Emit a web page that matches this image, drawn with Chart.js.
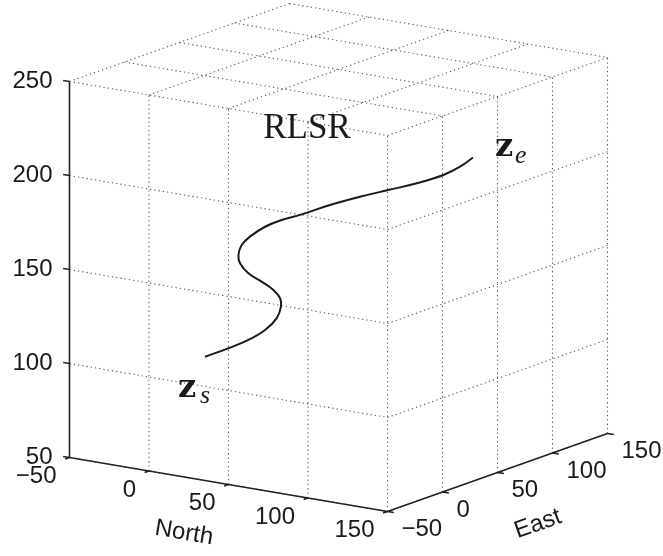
<!DOCTYPE html>
<html>
<head>
<meta charset="utf-8">
<script src="https://cdn.jsdelivr.net/npm/chart.js@4.4.1/dist/chart.umd.min.js"></script>
<style>
  html, body { margin: 0; padding: 0; background: #fff; }
  #wrap { width: 663px; height: 556px; }
</style>
</head>
<body>
<div id="wrap"><canvas id="chart" width="663" height="556"></canvas></div>
<script>
// axis ticks
const northTicks = [-50, 0, 50, 100, 150];
const eastTicks = [-50, 0, 50, 100, 150];
const altTicks = [50, 100, 150, 200, 250];

// RLSR path, from z_s to z_e
const pathNorth = [0.4, 9, 16.5, 22.7, 27, 28.6, 28.3, 25.8, 21.4, 16.5, 13.4, 12.8, 14, 17.1, 22.7, 28.9, 36.3, 46.8, 58, 68.5, 79.1, 89, 95.2, 100];
const pathEast = [0.4, 9, 16.5, 22.7, 27, 28.6, 28.3, 25.8, 21.4, 16.5, 13.4, 12.8, 14, 17.1, 22.7, 28.9, 36.3, 46.8, 58, 68.5, 79.1, 89, 95.2, 100];
const pathAlt = [100.4, 104.3, 108.3, 113.2, 119.1, 125.2, 129.7, 134.3, 139, 143.7, 149.3, 153.7, 158.9, 163.2, 168.1, 171.3, 173.8, 178.1, 181.8, 184.7, 187.6, 191.4, 195.4, 200];

const titleText = "RLSR";
const northLabel = "North";
const eastLabel = "East";

// view: orthographic projection of the 3-D box onto the page
const ORIGIN = { x: 69.5, y: 457.5 }; // (north -50, east -50, alt 50)
const N_DIR = { x: 1.59, y: 0.27 };
const E_DIR = { x: 1.1, y: -0.39 };
const Z_DIR = { x: 0, y: -1.88 };

const nMin = northTicks[0], nMax = northTicks[northTicks.length - 1];
const eMin = eastTicks[0], eMax = eastTicks[eastTicks.length - 1];
const zMin = altTicks[0], zMax = altTicks[altTicks.length - 1];

function project(n, e, z) {
  return {
    x: ORIGIN.x + (n - nMin) * N_DIR.x + (e - eMin) * E_DIR.x + (z - zMin) * Z_DIR.x,
    y: ORIGIN.y + (n - nMin) * N_DIR.y + (e - eMin) * E_DIR.y + (z - zMin) * Z_DIR.y
  };
}

const GAP = { x: NaN, y: NaN };

function segments(list) {
  const out = [];
  list.forEach(([a, b]) => {
    out.push(project(...a), project(...b), GAP);
  });
  return out;
}

// grid on planes east = eMin, north = nMax and alt = zMax
const gridSegs = [];
northTicks.forEach((n) => {
  gridSegs.push([[n, eMin, zMin], [n, eMin, zMax]]);
  gridSegs.push([[n, eMin, zMax], [n, eMax, zMax]]);
});
eastTicks.forEach((e) => {
  gridSegs.push([[nMax, e, zMin], [nMax, e, zMax]]);
  gridSegs.push([[nMin, e, zMax], [nMax, e, zMax]]);
});
altTicks.forEach((z) => {
  gridSegs.push([[nMin, eMin, z], [nMax, eMin, z]]);
  gridSegs.push([[nMax, eMin, z], [nMax, eMax, z]]);
});

const axisSegs = [
  [[nMin, eMin, zMin], [nMin, eMin, zMax]],
  [[nMin, eMin, zMin], [nMax, eMin, zMin]],
  [[nMax, eMin, zMin], [nMax, eMax, zMin]]
];
altTicks.forEach((z) => axisSegs.push([[nMin, eMin, z], [nMin - 4, eMin, z]]));
northTicks.forEach((n) => axisSegs.push([[n, eMin, zMin], [n, eMin - 4, zMin]]));
eastTicks.forEach((e) => axisSegs.push([[nMax, e, zMin], [nMax + 4, e, zMin]]));

const pathPoints = pathNorth.map((n, i) => project(n, pathEast[i], pathAlt[i]));

const labelPlugin = {
  id: "labels3d",
  afterDraw(chart) {
    const ctx = chart.ctx;
    ctx.save();
    ctx.fillStyle = "#1a1a1a";
    ctx.font = "24px 'Liberation Sans', Arial, sans-serif";
    ctx.textBaseline = "middle";

    ctx.textAlign = "right";
    altTicks.forEach((z) => {
      const p = project(nMin, eMin, z);
      ctx.fillText(String(z), p.x - 17, p.y);
    });
    northTicks.forEach((n) => {
      const p = project(n, eMin, zMin);
      ctx.fillText(String(n).replace("-", "\u2212"), p.x - 13, p.y + 19);
    });
    ctx.textAlign = "left";
    eastTicks.forEach((e) => {
      const p = project(nMax, e, zMin);
      ctx.fillText(String(e).replace("-", "\u2212"), p.x + 14, p.y + 18);
    });

    ctx.textAlign = "center";
    ctx.save();
    ctx.translate(184, 533);
    ctx.rotate(Math.atan2(N_DIR.y, N_DIR.x));
    ctx.fillText(northLabel, 0, 0);
    ctx.restore();
    ctx.save();
    ctx.translate(538, 524);
    ctx.rotate(Math.atan2(E_DIR.y, E_DIR.x));
    ctx.fillText(eastLabel, 0, 0);
    ctx.restore();

    ctx.textBaseline = "alphabetic";
    ctx.font = "35px 'Liberation Serif', 'Times New Roman', serif";
    ctx.fillText(titleText, 307, 138);

    ctx.textAlign = "left";
    const start = pathPoints[0];
    const end = pathPoints[pathPoints.length - 1];
    ctx.font = "bold 32px 'DejaVu Serif', serif";
    ctx.fillText("z", start.x - 27, start.y + 40);
    ctx.fillText("z", end.x + 22, end.y - 2);
    ctx.font = "italic 26px 'Liberation Serif', serif";
    ctx.fillText("s", start.x - 5, start.y + 46);
    ctx.fillText("e", end.x + 42, end.y + 5);
    ctx.restore();
  }
};

new Chart(document.getElementById("chart"), {
  type: "scatter",
  data: {
    datasets: [
      {
        label: "path",
        data: pathPoints,
        showLine: true,
        borderColor: "#1a1a1a",
        borderWidth: 2,
        pointRadius: 0,
        tension: 0.4,
        order: 0
      },
      {
        label: "axes",
        data: segments(axisSegs),
        showLine: true,
        spanGaps: false,
        borderColor: "#222",
        borderWidth: 1.6,
        pointRadius: 0,
        order: 1
      },
      {
        label: "grid",
        data: segments(gridSegs),
        showLine: true,
        spanGaps: false,
        borderColor: "#5e5e5e",
        borderWidth: 1.1,
        borderDash: [1.3, 3],
        pointRadius: 0,
        order: 2
      }
    ]
  },
  options: {
    responsive: false,
    animation: false,
    layout: { padding: 0 },
    plugins: { legend: { display: false }, tooltip: { enabled: false } },
    scales: {
      x: { type: "linear", min: 0, max: 663, display: false },
      y: { type: "linear", min: 0, max: 556, reverse: true, display: false }
    }
  },
  plugins: [labelPlugin]
});
</script>
</body>
</html>
